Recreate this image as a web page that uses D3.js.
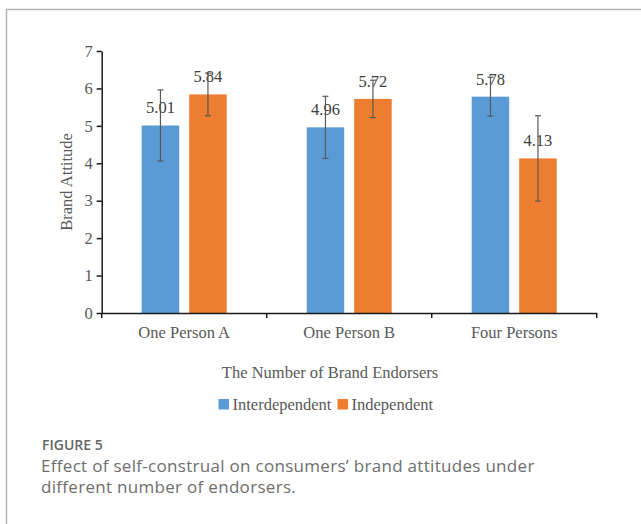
<!DOCTYPE html>
<html>
<head>
<meta charset="utf-8">
<script src="https://cdn.jsdelivr.net/npm/d3@7"></script>
<style>
  body { margin: 0; background: #fff; }
  svg { display: block; }
</style>
</head>
<body>
<div id="chart"></div>
<script>
// data
const categories = ["One Person A", "One Person B", "Four Persons"];
const series = ["Interdependent", "Independent"];
const interdependent = [5.01, 4.96, 5.78];
const independent = [5.84, 5.72, 4.13];
const interdependentErr = [0.95, 0.83, 0.52];
const independentErr = [0.57, 0.5, 1.14];
const yTicks = [0, 1, 2, 3, 4, 5, 6, 7];

const colors = {Interdependent: "#5B9BD5", Independent: "#ED7D31"};
const serif = "'Liberation Serif', 'Times New Roman', serif";
const fs = "16.5px";

const W = 641, H = 524;
const svg = d3.select("#chart").append("svg")
    .attr("width", W)
    .attr("height", H);

// figure frame
svg.append("rect")
    .attr("x", 6.5).attr("y", 9.5)
    .attr("width", 700).attr("height", 600)
    .attr("fill", "none")
    .attr("stroke", "#b5b5b5")
    .attr("stroke-width", 1.5);

const plot = {left: 101.7, right: 596.7, top: 51, bottom: 313};

const x0 = d3.scaleBand()
    .domain(categories)
    .range([plot.left, plot.right])
    .padding(0);

const x1 = d3.scaleBand()
    .domain(series)
    .range([0, x0.bandwidth()])
    .paddingInner(0.21)
    .paddingOuter(0.842);

const y = d3.scaleLinear()
    .domain([0, 7])
    .range([plot.bottom, plot.top]);

const rows = categories.map(function(c, i) {
  return {
    cat: c,
    vals: [
      {s: "Interdependent", v: interdependent[i], e: interdependentErr[i]},
      {s: "Independent", v: independent[i], e: independentErr[i]}
    ]
  };
});

// bars
const groups = svg.selectAll(".grp")
  .data(rows)
  .join("g")
    .attr("class", "grp")
    .attr("transform", function(d) { return `translate(${x0(d.cat)},0)`; });

groups.selectAll("rect")
  .data(function(d) { return d.vals; })
  .join("rect")
    .attr("x", function(d) { return x1(d.s); })
    .attr("y", function(d) { return y(d.v); })
    .attr("width", x1.bandwidth())
    .attr("height", function(d) { return y(0) - y(d.v); })
    .attr("fill", function(d) { return colors[d.s]; });

// value labels
groups.selectAll(".lbl")
  .data(function(d) { return d.vals; })
  .join("text")
    .attr("class", "lbl")
    .attr("x", function(d) { return x1(d.s) + x1.bandwidth() / 2; })
    .attr("y", function(d) { return y(d.v) - 12; })
    .attr("text-anchor", "middle")
    .style("font-family", serif)
    .style("font-size", fs)
    .style("fill", "#404040")
    .text(function(d) { return d.v.toFixed(2); });

// error bars (drawn over the labels like in the original)
const eb = groups.selectAll(".err")
  .data(function(d) { return d.vals; })
  .join("g")
    .attr("class", "err")
    .attr("stroke", "#595959")
    .attr("stroke-width", 1.2);

eb.append("line")
    .attr("x1", function(d) { return x1(d.s) + x1.bandwidth() / 2; })
    .attr("x2", function(d) { return x1(d.s) + x1.bandwidth() / 2; })
    .attr("y1", function(d) { return y(d.v + d.e); })
    .attr("y2", function(d) { return y(d.v - d.e); });

eb.selectAll(".cap")
  .data(function(d) { return [{s: d.s, val: d.v + d.e}, {s: d.s, val: d.v - d.e}]; })
  .join("line")
    .attr("class", "cap")
    .attr("x1", function(d) { return x1(d.s) + x1.bandwidth() / 2 - 3; })
    .attr("x2", function(d) { return x1(d.s) + x1.bandwidth() / 2 + 3; })
    .attr("y1", function(d) { return y(d.val); })
    .attr("y2", function(d) { return y(d.val); });

// y axis
const yAxis = svg.append("g")
    .attr("transform", `translate(${plot.left},0)`)
    .call(d3.axisLeft(y).tickValues(yTicks).tickFormat(d3.format("d"))
      .tickSize(5).tickSizeOuter(0).tickPadding(4));

// x axis
const xAxis = svg.append("g")
    .attr("transform", `translate(0,${plot.bottom})`)
    .call(d3.axisBottom(x0).tickSize(0).tickSizeOuter(0).tickPadding(13));

// category boundary ticks on the x axis
svg.append("g").selectAll("line")
  .data(x0.domain().map(function(c) { return x0(c); }).concat([plot.right]))
  .join("line")
    .attr("x1", function(d) { return d; })
    .attr("x2", function(d) { return d; })
    .attr("y1", plot.bottom)
    .attr("y2", plot.bottom + 5)
    .attr("stroke", "#1a1a1a")
    .attr("stroke-width", 1.5);

[yAxis, xAxis].forEach(function(a) {
  a.select(".domain").attr("stroke", "#1a1a1a").attr("stroke-width", 1.5);
  a.selectAll(".tick line").attr("stroke", "#1a1a1a").attr("stroke-width", 1.5);
  a.selectAll(".tick text")
      .style("font-family", serif)
      .style("font-size", fs)
      .style("fill", "#595959");
});

// axis titles
svg.append("text")
    .attr("transform", `translate(72,${(plot.top + plot.bottom) / 2}) rotate(-90)`)
    .attr("text-anchor", "middle")
    .style("font-family", serif)
    .style("font-size", fs)
    .style("fill", "#595959")
    .text("Brand Attitude");

svg.append("text")
    .attr("x", 330)
    .attr("y", 378)
    .attr("text-anchor", "middle")
    .style("font-family", serif)
    .style("font-size", fs)
    .style("fill", "#595959")
    .text("The Number of Brand Endorsers");

// legend
const legend = svg.append("g");
const legX = [218.5, 337.5];
series.forEach(function(s, i) {
  legend.append("rect")
      .attr("x", legX[i]).attr("y", 399)
      .attr("width", 10.5).attr("height", 10.5)
      .attr("fill", colors[s]);
  legend.append("text")
      .attr("x", legX[i] + 14)
      .attr("y", 410)
      .style("font-family", serif)
      .style("font-size", fs)
      .style("fill", "#595959")
      .text(s);
});

// caption
svg.append("text")
    .attr("x", 42)
    .attr("y", 450)
    .style("font-family", "'Open Sans', 'Noto Sans', sans-serif")
    .style("font-size", "14px")
    .style("font-weight", 600)
    .style("fill", "#666")
    .text("FIGURE 5");

const capLines = ["Effect of self-construal on consumers\u2019 brand attitudes under",
                  "different number of endorsers."];
svg.append("g").selectAll("text")
  .data(capLines)
  .join("text")
    .attr("x", 41)
    .attr("y", function(d, i) { return 471.5 + i * 21; })
    .style("font-family", "'Open Sans', 'Noto Sans', sans-serif")
    .style("font-size", "17px")
    .style("letter-spacing", "0.3px")
    .style("fill", "#6e6e6e")
    .text(function(d) { return d; });
</script>
</body>
</html>
